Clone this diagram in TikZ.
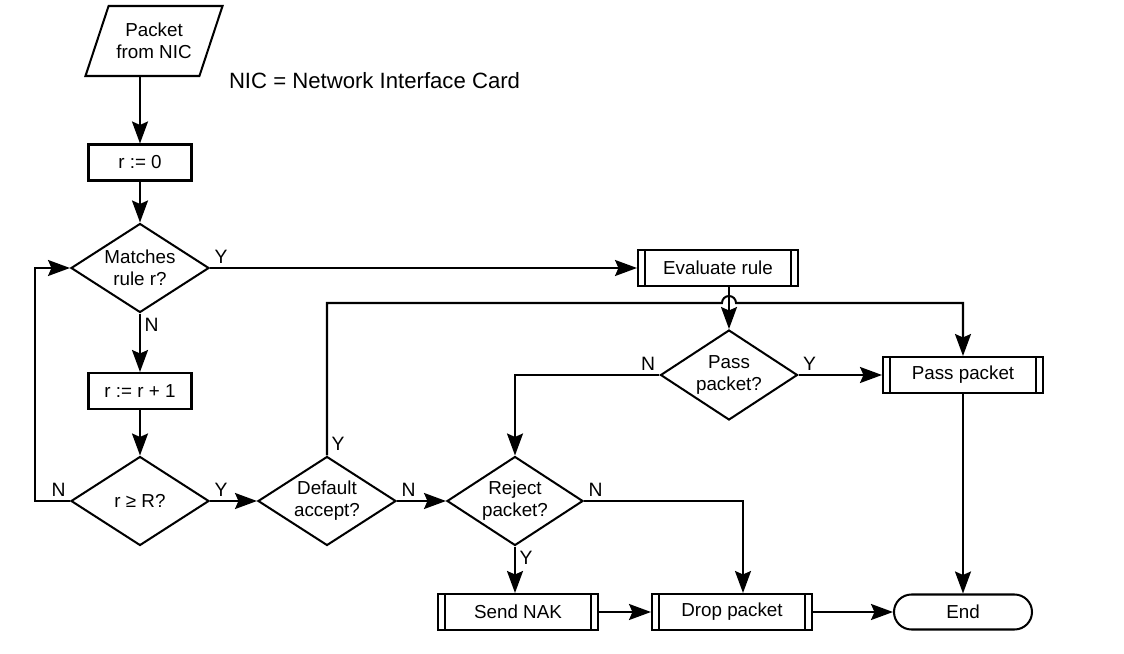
\documentclass[tikz,border=0pt]{standalone}
\usepackage{fontspec}
\setmainfont{Liberation Sans}
\usetikzlibrary{positioning,calc,arrows.meta,shapes.geometric}

\begin{document}
\begin{tikzpicture}[
  line width=1.15pt,
  font=\fontsize{10.7}{12.5}\selectfont,
  box/.style={
    draw, minimum width=2.06cm, minimum height=0.72cm, inner sep=1pt
  },
  subproc/.style={
    box, minimum width=3.2cm,
    path picture={
      \draw ([xshift=1.4mm]path picture bounding box.north west)
         -- ([xshift=1.4mm]path picture bounding box.south west);
      \draw ([xshift=-1.4mm]path picture bounding box.north east)
         -- ([xshift=-1.4mm]path picture bounding box.south east);
    }
  },
  dec/.style={
    draw, diamond, aspect=1.55, inner sep=0pt,
    minimum width=2.76cm, minimum height=1.78cm, align=center
  },
  io/.style={
    draw, trapezium, trapezium left angle=63, trapezium right angle=117,
    trapezium stretches=true, minimum width=2.76cm, minimum height=1.4cm,
    align=center, inner sep=1pt
  },
  term/.style={
    draw, rounded corners=3.5mm, minimum width=2.76cm, minimum height=0.7cm
  },
  arr/.style={-{Stealth[length=4.4mm,width=3.2mm,inset=0.7mm]}},
  lbl/.style={inner sep=2pt, font=\fontsize{11}{13}\selectfont},
  note/.style={font=\fontsize{12.6}{15}\selectfont, inner sep=0pt},
]
\useasboundingbox (0,0) rectangle (22.48,-13.08);

%% --- Left column ------------------------------------------------------
\node[io]   (pkt)   at (3.08, -0.82) {Packet\\from NIC};
\node[note, anchor=west] (nic) at (4.56, -1.62) {NIC = Network Interface Card};
\node[box]  (r0)    at (2.8, -3.25)  {r := 0};
\node[dec]  (match) at (2.8, -5.36)  {Matches\\rule r?};
\node[box]  (rinc)  at (2.8, -7.82)  {r := r + 1};
\node[dec]  (rge)   at (2.8, -10.02) {r ≥ R?};

%% --- Bottom row -------------------------------------------------------
\node[dec]  (dflt)  at (6.54, -10.02)  {Default\\accept?};
\node[dec, minimum width=2.72cm] (rej) at (10.3, -10.02) {Reject\\packet?};
\node[subproc] (nak)  at (10.36, -12.24) {Send NAK};
\node[subproc] (drop) at (14.64, -12.24) {Drop packet};
\node[term]    (endn) at (19.26, -12.24) {End};

%% --- Right part -------------------------------------------------------
\node[subproc] (eval)  at (14.36, -5.36) {Evaluate rule};
\node[dec, minimum width=2.74cm, minimum height=1.8cm]
               (passq) at (14.58, -7.5)  {Pass\\packet?};
\node[subproc] (pass)  at (19.26, -7.5)  {Pass packet};
\coordinate (hop) at (14.58, -6.06);

%% --- Connectors ---------------------------------------------------------
\draw[arr] (r0.north |- pkt.south) -- (r0.north);
\draw[arr] (r0) -- (match);
\draw[arr] (match.south) node[lbl, below right]{N} -- (rinc.north);
\draw[arr] (rinc) -- (rge);
\draw[arr] (rge.west) node[lbl, above left]{N} -- ++(-0.7,0) |- (match.west);
\draw[arr] (match.east) node[lbl, above right]{Y} -- (eval.west);
\draw[arr] (rge.east) node[lbl, above right]{Y} -- (dflt.west);
\draw[arr] (dflt.east) node[lbl, above right]{N} -- (rej.west);

%  Default accept -> Pass packet, hopping over the evaluate line
\draw[arr] (dflt.north) node[lbl, above right]{Y}
  |- ([xshift=-1.4mm]hop) arc[start angle=180, end angle=0, radius=1.4mm]
  -| (pass.north);

\draw[arr] (passq.north |- eval.south) -- (passq.north);
\draw[arr] (passq.east) node[lbl, above right]{Y} -- (pass.west);
\draw[arr] (passq.west) node[lbl, above left]{N} -| (rej.north);
\draw[arr] (rej.east) node[lbl, above right]{N} -| ([xshift=2.2mm]drop.north);
\draw[arr] (rej.south) node[lbl, below right]{Y} -- (rej.south |- nak.north);
\draw[arr] (nak) -- (drop);
\draw[arr] (drop) -- (endn);
\draw[arr] (pass) -- (endn);

\end{tikzpicture}
\end{document}
